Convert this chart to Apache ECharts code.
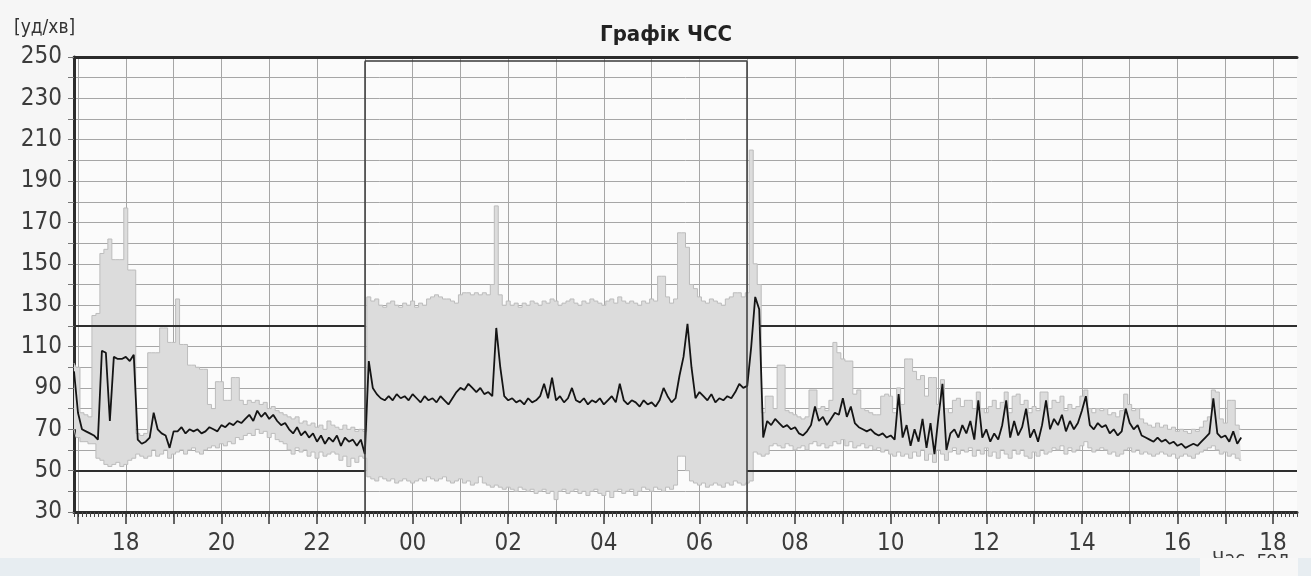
<!DOCTYPE html>
<html>
<head>
<meta charset="utf-8">
<title>Графік ЧСС</title>
<script src="https://cdn.jsdelivr.net/npm/echarts@6/dist/echarts.min.js"></script>
<style>
  html, body { margin: 0; padding: 0; background: #f6f6f6; }
  #chart { width: 1311px; height: 576px; }
</style>
</head>
<body>
<div id="chart"></div>
<script>
// 5-minute samples from 16:55 to 17:20 next day; axis runs on to 18:30
const startMin = 16 * 60 + 55;
const axisEndMin = 42 * 60 + 30;
const stepMin = 5;

// mean heart rate [bpm]
const hrMean = [98,
  78, 70, 69, 68, 67, 65, 108, 107, 74, 105, 104, 104,
  105, 103, 106, 65, 63, 64, 66, 78, 70, 68, 67, 61,
  69, 69, 71, 68, 70, 69, 70, 68, 69, 71, 70, 69,
  72, 71, 73, 72, 74, 73, 75, 77, 74, 79, 76, 78,
  75, 77, 74, 72, 73, 70, 68, 71, 67, 69, 66, 68,
  64, 67, 63, 66, 64, 67, 62, 66, 64, 65, 62, 65,
  58, 103, 90, 87, 85, 84, 86, 84, 87, 85, 86, 84,
  87, 85, 83, 86, 84, 85, 83, 86, 84, 82, 85, 88,
  90, 89, 92, 90, 88, 90, 87, 88, 86, 119, 100, 86,
  84, 85, 83, 84, 82, 85, 83, 84, 86, 92, 85, 95,
  84, 86, 83, 85, 90, 84, 83, 85, 82, 84, 83, 85,
  82, 84, 86, 83, 92, 84, 82, 84, 83, 81, 84, 82,
  83, 81, 84, 90, 86, 83, 85, 96, 105, 121, 100, 85,
  88, 86, 84, 87, 83, 85, 84, 86, 85, 88, 92, 90,
  91, 110, 134, 128, 66, 74, 72, 75, 73, 71, 72, 70,
  71, 68, 67, 69, 72, 81, 74, 76, 72, 75, 78, 77,
  85, 76, 81, 73, 71, 70, 69, 70, 68, 67, 68, 66,
  67, 65, 87, 66, 72, 62, 70, 64, 75, 61, 73, 58,
  76, 92, 60, 68, 70, 66, 72, 68, 74, 65, 84, 66,
  70, 64, 68, 65, 72, 84, 66, 74, 67, 71, 80, 66,
  70, 64, 72, 84, 70, 75, 72, 77, 69, 74, 70, 73,
  79, 86, 72, 70, 73, 71, 72, 68, 70, 67, 69, 80,
  73, 70, 72, 67, 66, 65, 64, 66, 64, 65, 63, 64,
  62, 63, 61, 62, 63, 62, 64, 66, 68, 85, 68, 66,
  67, 64, 69, 63, 66];

// maximum per interval
const hrMax = [102,
  100, 78, 77, 76, 125, 126, 155, 157, 162, 152, 152, 152,
  177, 147, 147, 68, 67, 68, 107, 107, 107, 119, 119, 112,
  112, 133, 111, 111, 101, 101, 100, 99, 99, 82, 80, 93,
  93, 84, 84, 95, 95, 84, 82, 84, 83, 84, 82, 83,
  80, 81, 79, 78, 77, 76, 75, 76, 73, 74, 72, 73,
  71, 72, 70, 74, 72, 71, 70, 72, 70, 71, 69, 70,
  69, 134, 132, 133, 130, 129, 131, 132, 130, 129, 131, 130,
  132, 129, 131, 130, 133, 134, 135, 134, 133, 133, 132, 131,
  135, 136, 136, 135, 136, 135, 136, 135, 140, 178, 135, 130,
  132, 130, 131, 129, 131, 130, 132, 131, 130, 132, 131, 133,
  132, 130, 131, 132, 133, 131, 130, 132, 131, 133, 132, 131,
  130, 132, 133, 131, 134, 132, 131, 132, 131, 130, 132, 131,
  133, 132, 144, 144, 134, 131, 133, 165, 165, 158, 140, 138,
  134, 132, 131, 133, 132, 131, 130, 133, 134, 136, 136, 134,
  136, 205, 150, 140, 78, 86, 86, 80, 101, 101, 79, 78,
  77, 76, 75, 76, 89, 89, 80, 81, 79, 84, 112, 107,
  104, 103, 103, 87, 89, 80, 79, 78, 77, 77, 86, 87,
  86, 78, 90, 82, 104, 104, 98, 94, 96, 86, 95, 95,
  82, 94, 80, 78, 84, 85, 81, 84, 84, 80, 88, 80,
  78, 81, 84, 80, 83, 88, 78, 86, 87, 82, 84, 78,
  81, 79, 88, 88, 80, 84, 83, 86, 79, 82, 80, 81,
  86, 89, 80, 78, 80, 79, 80, 77, 78, 76, 79, 87,
  82, 79, 80, 75, 73, 72, 71, 73, 71, 72, 70, 71,
  69, 70, 69, 68, 70, 69, 71, 74, 76, 89, 88, 75,
  73, 84, 84, 72, 70];

// minimum per interval
const hrMin = [70,
  66, 64, 64, 63, 63, 56, 55, 53, 52, 53, 54, 52,
  53, 55, 56, 58, 57, 56, 57, 60, 57, 58, 60, 56,
  58, 59, 60, 58, 60, 61, 59, 58, 60, 61, 62, 61,
  63, 62, 64, 63, 66, 65, 67, 68, 67, 70, 68, 69,
  66, 68, 65, 64, 63, 60, 58, 61, 59, 60, 57, 59,
  56, 59, 57, 58, 59, 58, 55, 57, 52, 56, 54, 57,
  56, 47, 46, 45, 47, 46, 45, 46, 44, 45, 46, 45,
  44, 45, 46, 45, 47, 46, 45, 46, 47, 45, 44, 45,
  46, 44, 45, 43, 44, 47, 44, 43, 42, 43, 42, 41,
  42, 41, 40, 42, 41, 40, 41, 39, 40, 41, 39, 40,
  36, 40, 41, 39, 40, 41, 39, 40, 38, 40, 41, 39,
  38, 40, 37, 40, 41, 39, 40, 41, 38, 40, 42, 41,
  40, 42, 41, 40, 42, 41, 43, 57, 57, 50, 45, 44,
  43, 44, 42, 43, 44, 43, 42, 44, 43, 45, 44, 43,
  44, 45, 59, 58, 57, 58, 62, 63, 62, 61, 63, 62,
  60, 61, 62, 60, 63, 64, 62, 63, 61, 62, 64, 63,
  65, 62, 64, 61, 62, 63, 61, 62, 60, 61, 59, 60,
  58, 57, 59, 57, 58, 56, 59, 57, 60, 55, 58, 54,
  60, 58, 55, 59, 61, 58, 60, 59, 61, 57, 60, 58,
  61, 57, 59, 56, 60, 58, 56, 60, 58, 60, 57, 56,
  59, 57, 60, 58, 59, 61, 60, 62, 58, 61, 59, 60,
  62, 64, 61, 59, 60, 61, 60, 58, 59, 57, 58, 60,
  61, 59, 60, 58, 59, 58, 57, 58, 59, 58, 57, 58,
  56, 57, 58, 57, 56, 58, 59, 60, 61, 62, 60, 58,
  59, 57, 58, 56, 55];

const yTicks = [30, 50, 70, 90, 110, 130, 150, 170, 190, 210, 230, 250];
const limitHigh = 120;
const limitLow = 50;
const nightFrom = '23:00';
const nightTo = '07:00';
const dayFrom = '07:15';
const nightTop = 248;

const pad = n => (n < 10 ? '0' : '') + n;
const times = [];
for (let m = startMin; m <= axisEndMin; m += stepMin) {
  times.push(pad(Math.floor(m / 60) % 24) + ':' + pad(m % 60));
}
const band = hrMax.map((v, i) => v - hrMin[i]);

const isHour = (i, v) => v.slice(3) === '00';
const isEvenHour = (i, v) => isHour(i, v) && parseInt(v, 10) % 2 === 0;

const narrow = "'Liberation Sans Narrow', 'DejaVu Sans Condensed', sans-serif";
const last = times.length - 1;
const iNight = times.indexOf(nightFrom);
const iMorning = times.indexOf(nightTo);
const iDay = times.indexOf(dayFrom);

const seg = (x1, y1, x2, y2, style) => [
  { coord: [x1, y1], lineStyle: style },
  { coord: [x2, y2] }
];
const limitStyle = { color: '#2e2e2e', width: 2, type: 'solid' };
const boxStyle = { color: '#3a3a3a', width: 1.5, type: 'solid' };

const chart = echarts.init(document.getElementById('chart'));

const option = {
  animation: false,
  backgroundColor: '#f6f6f6',
  grid: {
    left: 74, right: 14, top: 57, bottom: 64,
    show: true, backgroundColor: '#fbfbfb', borderWidth: 0
  },
  graphic: [
    { type: 'rect', left: 0, top: 558, shape: { width: 1311, height: 18 }, style: { fill: '#e7edf1' }, z: 5 },
    { type: 'rect', left: 1200, top: 558, shape: { width: 98, height: 18 }, style: { fill: '#f7f7f7' }, z: 6 },
    { type: 'text', left: 1212, top: 550, style: { text: 'Час, год', fill: '#3c3c3c', font: '20px ' + narrow }, z: 5 },
    { type: 'rect', left: 1200, top: 561, shape: { width: 98, height: 15 }, style: { fill: '#f7f7f7' }, z: 7 },
    { type: 'text', left: 14, top: 19, style: { text: '[уд/хв]', fill: '#333', font: '19px ' + narrow }, z: 5 },
    { type: 'text', x: 666, y: 24, style: { text: 'Графік ЧСС', fill: '#222', font: 'bold 22px ' + narrow, textAlign: 'center' }, z: 5 }
  ],
  xAxis: [
    {
      type: 'category', data: times, boundaryGap: false, position: 'bottom',
      axisLine: { lineStyle: { color: '#2b2b2b', width: 3 } },
      axisTick: { show: true, interval: 0, length: 5, lineStyle: { color: '#444' } },
      axisLabel: { show: false },
      splitLine: { show: true, interval: isHour, lineStyle: { color: '#a6a6a6', width: 1 } }
    },
    {
      type: 'category', data: times, boundaryGap: false, position: 'bottom',
      axisLine: { show: false },
      axisTick: { show: true, interval: isHour, length: 12, lineStyle: { color: '#333', width: 1.5 } },
      axisLabel: {
        interval: isEvenHour, formatter: v => v.slice(0, 2),
        margin: 20, fontSize: 24, color: '#3c3c3c', fontFamily: narrow
      },
      splitLine: { show: false }
    },
    {
      type: 'category', data: times, boundaryGap: false, position: 'top',
      axisLine: { lineStyle: { color: '#2b2b2b', width: 3 } },
      axisTick: { show: false }, axisLabel: { show: false }, splitLine: { show: false }
    }
  ],
  yAxis: {
    type: 'value', min: 30, max: 250, interval: 10,
    axisLine: { show: true, lineStyle: { color: '#2b2b2b', width: 3 } },
    axisTick: { show: true, length: 6, lineStyle: { color: '#777' } },
    axisLabel: {
      formatter: v => (yTicks.indexOf(v) >= 0 ? String(v) : ''),
      margin: 12, fontSize: 24, color: '#3c3c3c', fontFamily: narrow
    },
    splitLine: { show: true, lineStyle: { color: '#a6a6a6', width: 1 } }
  },
  series: [
    {
      name: 'base', type: 'line', data: hrMin, stack: 'env', step: 'middle',
      symbol: 'none', silent: true, z: 1,
      lineStyle: { opacity: 0 },
      markLine: {
        silent: true, symbol: ['none', 'none'], label: { show: false },
        data: [
          seg(0, limitHigh, iNight, limitHigh, limitStyle),
          seg(iDay, limitHigh, last, limitHigh, limitStyle),
          seg(0, limitLow, iNight, limitLow, limitStyle),
          seg(iMorning, limitLow, last, limitLow, limitStyle),
          seg(iNight, 30, iNight, nightTop, boxStyle),
          seg(iNight, nightTop, iMorning, nightTop, boxStyle),
          seg(iMorning, nightTop, iMorning, 30, boxStyle)
        ]
      }
    },
    {
      name: 'range', type: 'line', data: band, stack: 'env', step: 'middle',
      symbol: 'none', silent: true, z: 2,
      lineStyle: { width: 0 },
      areaStyle: { color: '#dcdcdc', opacity: 1 }
    },
    {
      name: 'max', type: 'line', data: hrMax, step: 'middle', symbol: 'none', silent: true, z: 3,
      lineStyle: { color: '#bcbcbc', width: 1 }
    },
    {
      name: 'min', type: 'line', data: hrMin, step: 'middle', symbol: 'none', silent: true, z: 3,
      lineStyle: { color: '#bcbcbc', width: 1 }
    },
    {
      name: 'mean', type: 'line', data: hrMean, symbol: 'none', silent: true, z: 4,
      lineStyle: { color: '#141414', width: 1.8 }
    }
  ]
};

chart.setOption(option);
</script>
</body>
</html>
